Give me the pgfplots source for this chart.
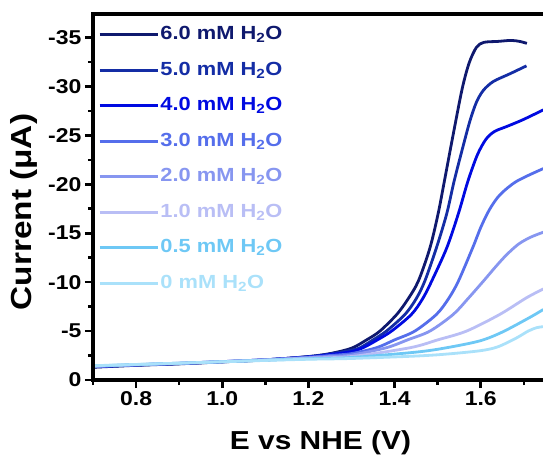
\documentclass[border=0pt]{standalone}
\usepackage{fontspec}
\setmainfont{Liberation Sans}[FakeStretch=1.15]
\usepackage{pgfplots}
\pgfplotsset{compat=1.18}
\definecolor{c6}{RGB}{15,25,110}
\definecolor{c5}{RGB}{20,45,165}
\definecolor{c4}{RGB}{0,10,225}
\definecolor{c3}{RGB}{85,110,235}
\definecolor{c2}{RGB}{135,150,240}
\definecolor{c1}{RGB}{185,190,245}
\definecolor{c05}{RGB}{110,200,245}
\definecolor{c0}{RGB}{170,225,250}
\newcommand{\legtxt}[2]{\textcolor{#1}{#2 mM H\textsubscript{2}O}}
\begin{document}
\begin{tikzpicture}
\begin{axis}[
  name=ax,
  scale only axis,
  width=455bp, height=366bp,
  xmin=0.7, xmax=1.756,
  ymin=-37.4, ymax=0,
  y dir=reverse,
  axis line style={draw=none},
  tick style={black, line width=2.6bp},
  tick align=outside,
  tick pos=left,
  major tick length=8bp, minor tick length=5bp,
  xtick={0.8,1.0,1.2,1.4,1.6},
  minor xtick={0.7,0.9,1.1,1.3,1.5,1.7},
  ytick={-35,-30,-25,-20,-15,-10,-5,0},
  minor ytick={-32.5,-27.5,-22.5,-17.5,-12.5,-7.5,-2.5},
  xticklabel style={/pgf/number format/fixed, /pgf/number format/fixed zerofill, /pgf/number format/precision=1},
  yticklabel style={/pgf/number format/fixed},
  /pgf/number format/assume math mode=true,
  tick label style={font=\bfseries\fontsize{20bp}{24bp}\selectfont},
  xlabel={E vs NHE (V)},
  xlabel style={font=\bfseries\fontsize{26bp}{30bp}\selectfont, at={(axis description cs:0.5,-0.13)}, anchor=north},
  ylabel={Current (μA)},
  ylabel style={font=\bfseries\fontsize{29bp}{32bp}\selectfont, at={(axis description cs:-0.152,0.459)}, anchor=center},
  legend style={draw=none, fill=none, at={(axis description cs:0,1)}, anchor=north west, xshift=2bp, yshift=-8bp,
    font=\bfseries\fontsize{19bp}{22bp}\selectfont,
    nodes={inner sep=1.5bp, text height=14bp, text depth=4bp}, row sep=14.5bp},
  legend cell align=left,
  legend image code/.code={\draw[#1, line width=2.8bp] (0bp,0bp) -- (58bp,0bp);},
  every axis plot/.append style={line width=2.8bp, smooth, tension=0.5},
  clip=true,
]
\addplot[c6] coordinates {(0.70,-1.30) (0.80,-1.50) (0.90,-1.65) (1.00,-1.85) (1.10,-2.05) (1.20,-2.40) (1.25,-2.70) (1.30,-3.25) (1.335,-4.1) (1.366,-5.0) (1.405,-6.7) (1.43,-8.2) (1.455,-10.1) (1.482,-13.5) (1.501,-17.0) (1.515,-20.2) (1.536,-25.1) (1.557,-29.8) (1.573,-32.4) (1.590,-34.0) (1.607,-34.5) (1.64,-34.6) (1.67,-34.7) (1.69,-34.6) (1.707,-34.4)};
\addlegendentry{\legtxt{c6}{6.0}}
\addplot[c5] coordinates {(0.70,-1.33) (0.80,-1.52) (0.90,-1.67) (1.00,-1.86) (1.10,-2.06) (1.20,-2.38) (1.25,-2.65) (1.30,-3.05) (1.320,-3.3) (1.35,-4.1) (1.381,-5.0) (1.424,-6.7) (1.45,-8.3) (1.470,-10.1) (1.497,-13.5) (1.521,-17.0) (1.538,-20.3) (1.559,-23.9) (1.575,-26.5) (1.590,-28.4) (1.606,-29.6) (1.629,-30.5) (1.668,-31.3) (1.706,-32.1)};
\addlegendentry{\legtxt{c5}{5.0}}
\addplot[c4] coordinates {(0.70,-1.36) (0.80,-1.54) (0.90,-1.69) (1.00,-1.87) (1.10,-2.07) (1.20,-2.36) (1.25,-2.60) (1.30,-2.90) (1.327,-3.3) (1.36,-4.1) (1.393,-5.0) (1.439,-6.7) (1.465,-8.3) (1.486,-10.1) (1.521,-13.5) (1.548,-17.0) (1.570,-20.3) (1.592,-23.0) (1.612,-24.6) (1.632,-25.4) (1.660,-25.9) (1.698,-26.6) (1.745,-27.6)};
\addlegendentry{\legtxt{c4}{4.0}}
\addplot[c3] coordinates {(0.70,-1.38) (0.80,-1.55) (0.90,-1.70) (1.00,-1.88) (1.10,-2.07) (1.20,-2.33) (1.25,-2.50) (1.30,-2.70) (1.358,-3.3) (1.40,-4.1) (1.447,-5.0) (1.497,-6.7) (1.525,-8.3) (1.548,-10.1) (1.582,-13.6) (1.600,-15.6) (1.620,-17.4) (1.644,-18.9) (1.683,-20.3) (1.745,-21.6)};
\addlegendentry{\legtxt{c3}{3.0}}
\addplot[c2] coordinates {(0.70,-1.40) (0.80,-1.56) (0.90,-1.71) (1.00,-1.88) (1.10,-2.06) (1.20,-2.28) (1.25,-2.40) (1.30,-2.55) (1.381,-3.3) (1.43,-4.1) (1.482,-5.0) (1.536,-6.7) (1.57,-8.3) (1.606,-10.1) (1.635,-11.6) (1.660,-12.8) (1.688,-13.9) (1.716,-14.6) (1.745,-15.1)};
\addlegendentry{\legtxt{c2}{2.0}}
\addplot[c1] coordinates {(0.70,-1.42) (0.80,-1.57) (0.90,-1.72) (1.00,-1.88) (1.10,-2.04) (1.20,-2.22) (1.30,-2.40) (1.436,-3.3) (1.50,-4.1) (1.567,-5.0) (1.644,-6.7) (1.706,-8.4) (1.745,-9.3)};
\addlegendentry{\legtxt{c1}{1.0}}
\addplot[c05] coordinates {(0.70,-1.44) (0.80,-1.58) (0.90,-1.72) (1.00,-1.87) (1.10,-2.02) (1.20,-2.17) (1.30,-2.30) (1.45,-2.85) (1.521,-3.3) (1.598,-4.0) (1.65,-4.9) (1.714,-6.4) (1.745,-7.2)};
\addlegendentry{\legtxt{c05}{0.5}}
\addplot[c0] coordinates {(0.70,-1.46) (0.80,-1.59) (0.90,-1.72) (1.00,-1.86) (1.10,-2.00) (1.20,-2.12) (1.30,-2.20) (1.45,-2.45) (1.521,-2.65) (1.60,-3.0) (1.640,-3.4) (1.683,-4.3) (1.710,-5.0) (1.730,-5.35) (1.745,-5.45)};
\addlegendentry{\legtxt{c0}{0}}
\end{axis}
\draw[black, line width=3.6bp, line cap=rect, line join=miter] ([xshift=20bp]ax.south east) -- (ax.south west) -- (ax.north west) -- ([xshift=20bp]ax.north east);
\pgfresetboundingbox
\path ([shift={(-93bp,-77bp)}]ax.south west) rectangle ([shift={(-5bp,14bp)}]ax.north east);
\end{tikzpicture}
\end{document}
